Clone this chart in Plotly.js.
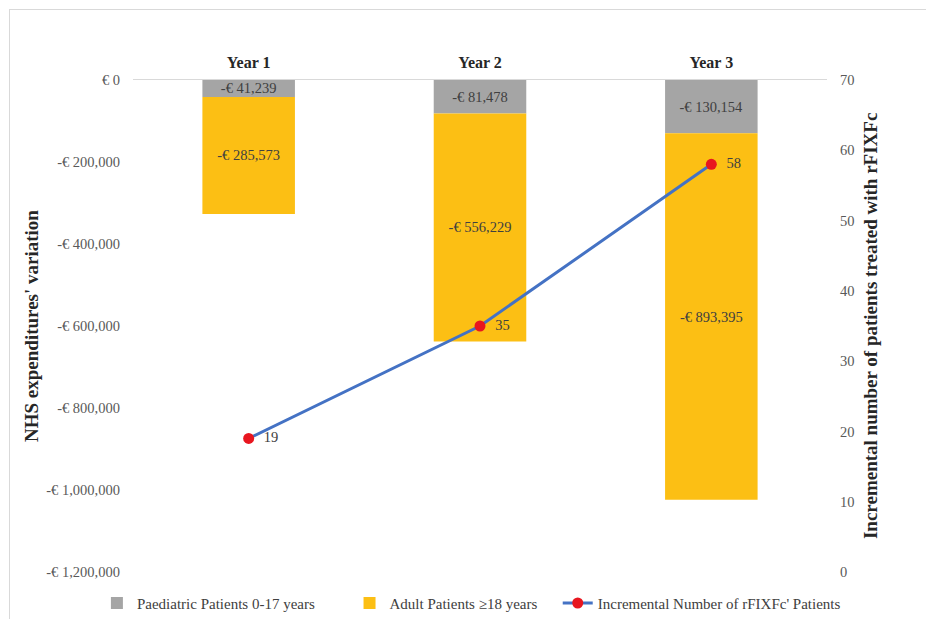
<!DOCTYPE html>
<html>
<head>
<meta charset="utf-8">
<script src="https://cdn.plot.ly/plotly-3.0.1.min.js"></script>
<style>
  html, body { margin: 0; padding: 0; background: #fff; }
  #chart { width: 926px; height: 619px; }
  #frame { position: absolute; left: 9px; top: 9px; width: 940px; height: 640px; border: 1px solid #d9d9d9; pointer-events: none; }
</style>
</head>
<body>
<div id="chart"></div>
<div id="frame"></div>
<script>
const years = ['Year 1', 'Year 2', 'Year 3'];
const paediatric = [-41239, -81478, -130154];
const adult = [-285573, -556229, -893395];
const incrementalPatients = [19, 35, 58];
const leftTickVals = [0, -200000, -400000, -600000, -800000, -1000000, -1200000];
const leftTickText = ['€ 0', '-€ 200,000', '-€ 400,000', '-€ 600,000', '-€ 800,000', '-€ 1,000,000', '-€ 1,200,000'];
const rightTickVals = [0, 10, 20, 30, 40, 50, 60, 70];

const serif = 'Liberation Serif, Times New Roman, serif';
const euro = v => (v < 0 ? '-€ ' : '€ ') + Math.abs(v).toLocaleString('en-US');

const traces = [
  {
    type: 'bar', name: 'Paediatric Patients 0-17 years', legend: 'legend',
    x: years, y: paediatric, text: paediatric.map(euro),
    textposition: 'inside', insidetextanchor: 'middle', textangle: 0,
    textfont: {family: serif, size: 14.5, color: '#404040'},
    marker: {color: '#A5A5A5'}, width: 0.4, hoverinfo: 'skip'
  },
  {
    type: 'bar', name: 'Adult Patients ≥18 years', legend: 'legend2',
    x: years, y: adult, text: adult.map(euro),
    textposition: 'inside', insidetextanchor: 'middle', textangle: 0,
    textfont: {family: serif, size: 14.5, color: '#404040'},
    marker: {color: '#FCBF14'}, width: 0.4, hoverinfo: 'skip'
  },
  {
    type: 'scatter', mode: 'lines+markers+text', name: "Incremental Number of rFIXFc' Patients", legend: 'legend3',
    x: years, y: incrementalPatients, yaxis: 'y2',
    text: incrementalPatients.map(v => '  ' + v), textposition: 'middle right',
    textfont: {family: serif, size: 14.5, color: '#404040'},
    line: {color: '#4472C4', width: 3},
    marker: {color: '#E8161F', size: 11}, hoverinfo: 'skip'
  }
];

const legendBase = {
  orientation: 'h', xanchor: 'left', y: -0.03, yanchor: 'top',
  font: {family: serif, size: 15, color: '#404040'},
  bgcolor: 'rgba(0,0,0,0)'
};

const layout = {
  width: 926, height: 619,
  margin: {l: 133, r: 99, t: 80, b: 47, autoexpand: false},
  paper_bgcolor: '#fff', plot_bgcolor: '#fff',
  barmode: 'relative',
  showlegend: true,
  font: {family: serif, size: 14, color: '#595959'},
  uniformtext: {mode: 'show', minsize: 14.5},
  xaxis: {
    side: 'top', type: 'category', automargin: false,
    showline: true, linecolor: '#d9d9d9', linewidth: 1,
    showgrid: false, ticks: '',
    tickfont: {family: serif, size: 16, color: '#262626', weight: 'bold'},
    ticklabelstandoff: 5
  },
  yaxis: {
    range: [-1200000, 0], tickvals: leftTickVals, ticktext: leftTickText, automargin: false,
    showgrid: false, zeroline: false, showline: false, ticks: '',
    tickfont: {family: serif, size: 14.5, color: '#595959'},
    ticklabelstandoff: 12
  },
  yaxis2: {
    overlaying: 'y', side: 'right', range: [0, 70], tickvals: rightTickVals, automargin: false,
    showgrid: false, zeroline: false, showline: false, ticks: '',
    tickfont: {family: serif, size: 14.5, color: '#595959'},
    ticklabelstandoff: 12
  },
  legend: Object.assign({}, legendBase, {x: -0.052}),
  legend2: Object.assign({}, legendBase, {x: 0.312}),
  legend3: Object.assign({}, legendBase, {x: 0.612}),
  annotations: [
    {text: "NHS expenditures' variation", xref: 'paper', yref: 'paper', x: -0.147, y: 0.5,
     xanchor: 'center', yanchor: 'middle', textangle: -90, showarrow: false,
     font: {family: serif, size: 19, color: '#262626', weight: 'bold'}},
    {text: 'Incremental number of patients treated with rFIXFc', xref: 'paper', yref: 'paper', x: 1.062, y: 0.5,
     xanchor: 'center', yanchor: 'middle', textangle: -90, showarrow: false,
     font: {family: serif, size: 19, color: '#262626', weight: 'bold'}}
  ]
};

Plotly.newPlot('chart', traces, layout, {displayModeBar: false, staticPlot: true});
</script>
</body>
</html>
